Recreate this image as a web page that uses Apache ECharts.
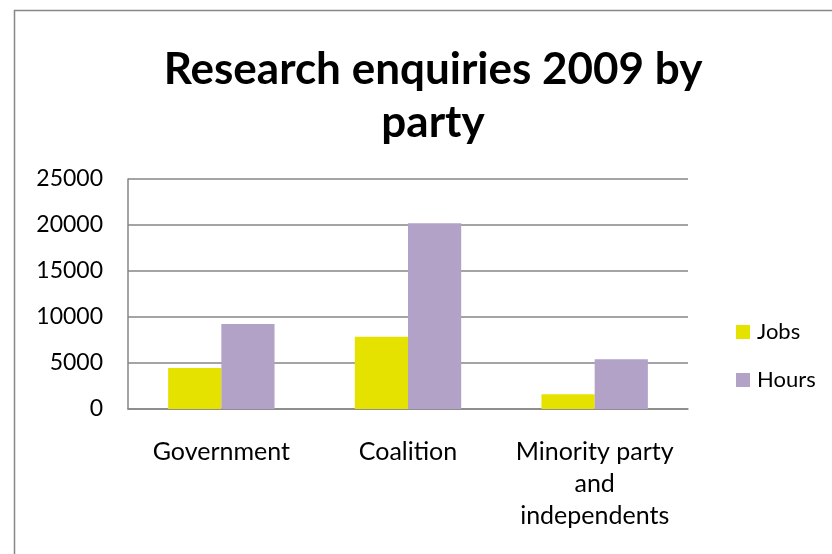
<!DOCTYPE html>
<html><head><meta charset="utf-8">
<script src="https://cdn.jsdelivr.net/npm/echarts@6/dist/echarts.min.js"></script>
<style>html,body{margin:0;padding:0;background:#fff}#c{width:832px;height:554px}</style>
</head><body><div id="c"></div>
<script>
const categories = ['Government', 'Coalition', 'Minority party\nand\nindependents'];
const jobs = [4450, 7850, 1600];
const hours = [9250, 20200, 5400];
const yTicks = [0, 5000, 10000, 15000, 20000, 25000];

const font = 'Lato, "Open Sans", sans-serif';
const chart = echarts.init(document.getElementById('c'));
chart.setOption({
  animation: false,
  backgroundColor: '#fff',
  graphic: [{
    type: 'rect', left: 12, top: 8,
    shape: { width: 830, height: 560 },
    style: { fill: 'none', stroke: '#868686', lineWidth: 1.5 }, silent: true
  }],
  title: {
    text: 'Research enquiries 2009 by\nparty',
    left: 428, top: 38, textAlign: 'center',
    textStyle: { fontFamily: font, fontWeight: 'bold', fontSize: 44, lineHeight: 53, color: '#000' }
  },
  legend: {
    orient: 'vertical', left: 731, top: 316,
    itemWidth: 14, itemHeight: 14, itemGap: 26,
    icon: 'rect',
    textStyle: { fontFamily: font, fontSize: 22, color: '#000', padding: [0, 0, 0, 2] },
    data: ['Jobs', 'Hours']
  },
  grid: { left: 128, right: 144, top: 179, bottom: 145, containLabel: false },
  xAxis: {
    type: 'category', data: categories,
    axisLine: { lineStyle: { color: '#868686', width: 1.5 } },
    axisTick: { show: false },
    axisLabel: { interval: 0, fontFamily: font, fontSize: 25, color: '#000', margin: 27, lineHeight: 32 }
  },
  yAxis: {
    type: 'value', min: yTicks[0], max: yTicks[yTicks.length - 1], interval: 5000,
    axisLine: { show: true, lineStyle: { color: '#868686', width: 1.5 } },
    axisTick: { show: false },
    splitLine: { lineStyle: { color: '#868686', width: 1.5 } },
    axisLabel: { fontFamily: font, fontSize: 23, color: '#000', margin: 25, formatter: v => String(v) }
  },
  series: [
    { name: 'Jobs', type: 'bar', data: jobs, barGap: '0%', barCategoryGap: '43%', itemStyle: { color: '#e6e200' } },
    { name: 'Hours', type: 'bar', data: hours, barGap: '0%', barCategoryGap: '43%', itemStyle: { color: '#b3a2c7' } }
  ]
});
</script></body></html>
